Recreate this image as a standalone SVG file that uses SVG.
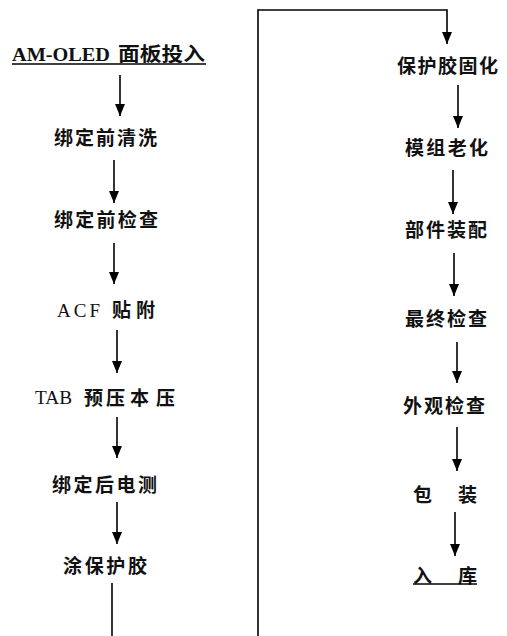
<svg xmlns="http://www.w3.org/2000/svg" width="507" height="636" viewBox="0 0 507 636">
<defs>
<marker id="ah" markerUnits="userSpaceOnUse" markerWidth="12" markerHeight="10" viewBox="0 0 12 10" refX="12" refY="5" orient="auto">
<path d="M0,0 L12,5 L0,10 z" fill="#000"/>
</marker>
</defs>
<style>
.t{font-family:"Noto Sans CJK SC","Noto Sans",sans-serif;font-size:19px;font-weight:bold;fill:#111}
.s{font-family:"Liberation Serif",serif;font-size:19px;fill:#111}
.c line,.c polyline{stroke:#000;stroke-width:1.6;fill:none}
.u{stroke:#000;stroke-width:1.3}
</style>
<rect width="507" height="636" fill="#fff"/>
<g class="c" id="connectors">
<line x1="120" y1="75" x2="120" y2="116" marker-end="url(#ah)"/>
<line x1="114" y1="160" x2="114" y2="203" marker-end="url(#ah)"/>
<line x1="114" y1="243" x2="114" y2="284" marker-end="url(#ah)"/>
<line x1="117" y1="330" x2="117" y2="373" marker-end="url(#ah)"/>
<line x1="117" y1="417" x2="117" y2="458" marker-end="url(#ah)"/>
<line x1="117" y1="502" x2="117" y2="544" marker-end="url(#ah)"/>
<line x1="112" y1="583" x2="112" y2="636"/>
<polyline points="258,636 258,10 447,10 447,44" marker-end="url(#ah)"/>
<line x1="458" y1="85" x2="458" y2="128" marker-end="url(#ah)"/>
<line x1="453" y1="170" x2="453" y2="214" marker-end="url(#ah)"/>
<line x1="454" y1="253" x2="454" y2="296" marker-end="url(#ah)"/>
<line x1="457" y1="342" x2="457" y2="383" marker-end="url(#ah)"/>
<line x1="457" y1="427" x2="457" y2="471" marker-end="url(#ah)"/>
<line x1="455" y1="512" x2="455" y2="556" marker-end="url(#ah)"/>
</g>
<g id="n1"><text class="s" x="12" y="61" font-size="18" font-weight="bold" textLength="98" lengthAdjust="spacingAndGlyphs">AM-OLED</text><text class="t" x="118" y="61" font-size="20" textLength="87" lengthAdjust="spacingAndGlyphs">面板投入</text><line class="u" x1="12" y1="64" x2="206" y2="64"/></g>
<g id="n2"><text class="t" x="54" y="145" textLength="103" lengthAdjust="spacing">绑定前清洗</text></g>
<g id="n3"><text class="t" x="54" y="227" textLength="104" lengthAdjust="spacing">绑定前检查</text></g>
<g id="n4"><text class="s" x="57" y="317" textLength="43" lengthAdjust="spacing">ACF</text><text class="t" x="112" y="317" textLength="43" lengthAdjust="spacing">贴附</text></g>
<g id="n5"><text class="s" x="35" y="404" textLength="37" lengthAdjust="spacingAndGlyphs">TAB</text><text class="t" x="84" y="405" textLength="41" lengthAdjust="spacing">预压</text><text class="t" x="130" y="405" textLength="45" lengthAdjust="spacing">本压</text></g>
<g id="n6"><text class="t" x="52" y="492" textLength="105" lengthAdjust="spacing">绑定后电测</text></g>
<g id="n7"><text class="t" x="63" y="573" textLength="84" lengthAdjust="spacing">涂保护胶</text></g>
<g id="n8"><text class="t" x="397" y="73" textLength="101" lengthAdjust="spacing">保护胶固化</text></g>
<g id="n9"><text class="t" x="405" y="155" textLength="83" lengthAdjust="spacing">模组老化</text></g>
<g id="n10"><text class="t" x="405" y="237" textLength="82" lengthAdjust="spacing">部件装配</text></g>
<g id="n11"><text class="t" x="405" y="326" textLength="82" lengthAdjust="spacing">最终检查</text></g>
<g id="n12"><text class="t" x="403" y="413" textLength="82" lengthAdjust="spacing">外观检查</text></g>
<g id="n13"><text class="t" x="413" y="502">包</text><text class="t" x="458" y="502">装</text></g>
<g id="n14"><text class="t" x="413" y="583">入</text><text class="t" x="458" y="583">库</text><line class="u" x1="413" y1="584" x2="477" y2="584"/></g>
</svg>
